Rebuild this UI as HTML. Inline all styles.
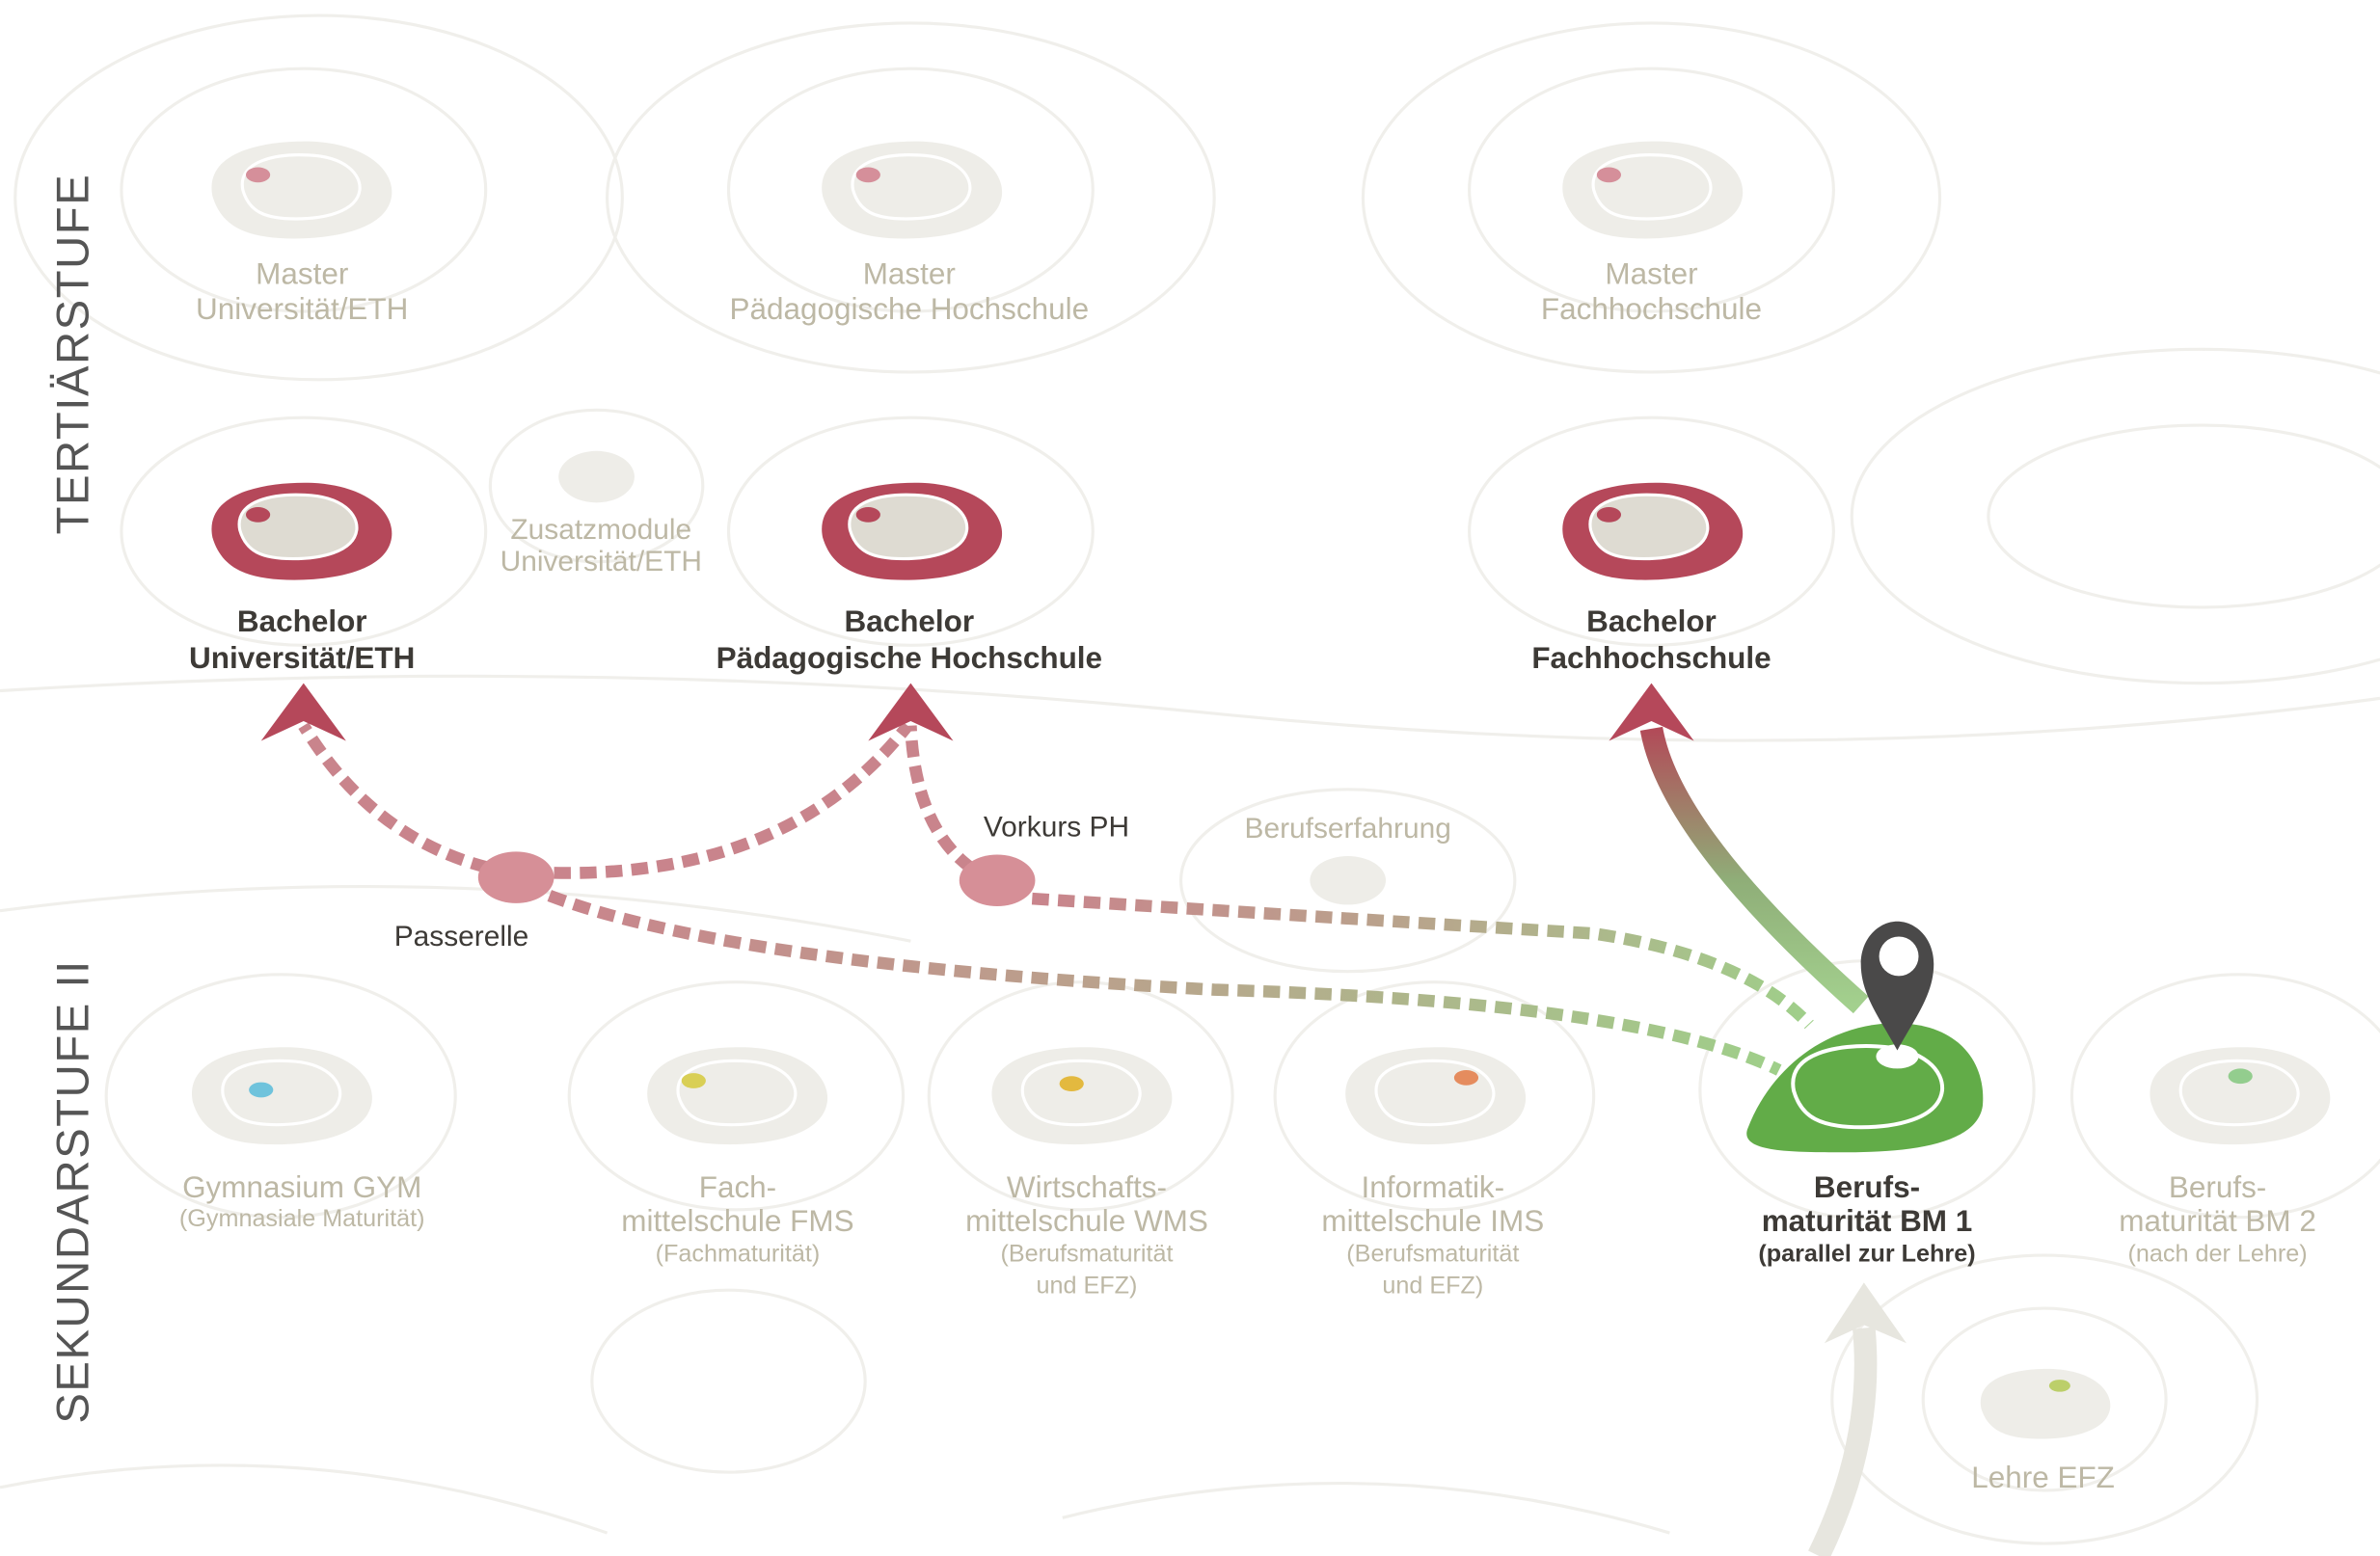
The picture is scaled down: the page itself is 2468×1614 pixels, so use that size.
<!DOCTYPE html>
<html><head><meta charset="utf-8"><style>
html,body{margin:0;padding:0;background:#fff;}
svg{display:block;}
text{font-family:"Liberation Sans","DejaVu Sans",sans-serif;text-anchor:middle;}
.g{fill:#bdb8a5;font-size:20px;}
.gs{fill:#bdb8a5;font-size:16px;}
.d{fill:#3d3a36;font-size:20px;font-weight:bold;}
.ds{fill:#3d3a36;font-size:16px;}
.c{fill:none;stroke:#f0efeb;stroke-width:2;}
</style></head><body>
<svg width="2468" height="1614" viewBox="0 0 1568 1025" xmlns="http://www.w3.org/2000/svg">
<defs>
<path id="b" d="M-58,4 C-64,-26 -22,-33 8,-32 C45,-30 62,-12 60,4 C57,26 22,32 -4,32 C-36,32 -52,24 -58,4Z"/>
<path id="bi" d="M-38,2 C-42,-18 -14,-22 5,-21 C30,-20 40,-8 39,2 C37,17 14,21 -3,21 C-24,21 -34,16 -38,2Z"/>
<path id="bg" d="M-62,22 C-50,-10 -20,-33 15,-33 C48,-33 62,-12 60,10 C57,30 22,34 -10,34 C-40,34 -66,34 -62,22Z"/>
<linearGradient id="gr" x1="0" y1="0" x2="1" y2="0"><stop offset="0" stop-color="#c9848c"/><stop offset="0.5" stop-color="#b8a58c"/><stop offset="1" stop-color="#9fcf8a"/></linearGradient>
<linearGradient id="gs" x1="0" y1="1" x2="0" y2="0"><stop offset="0" stop-color="#a3d08e"/><stop offset="0.45" stop-color="#8fae78"/><stop offset="1" stop-color="#b24a58"/></linearGradient>
</defs>
<g class="c">
<ellipse cx="200" cy="125" rx="120" ry="80"/><ellipse cx="210" cy="130" rx="200" ry="120"/>
<ellipse cx="600" cy="125" rx="120" ry="80"/><ellipse cx="600" cy="130" rx="200" ry="115"/>
<ellipse cx="1088" cy="125" rx="120" ry="80"/><ellipse cx="1088" cy="130" rx="190" ry="115"/>
<ellipse cx="200" cy="350" rx="120" ry="75"/><ellipse cx="600" cy="350" rx="120" ry="75"/><ellipse cx="1088" cy="350" rx="120" ry="75"/>
<ellipse cx="393" cy="320" rx="70" ry="50"/>
<ellipse cx="185" cy="722" rx="115" ry="80"/><ellipse cx="485" cy="722" rx="110" ry="75"/><ellipse cx="712" cy="722" rx="100" ry="75"/>
<ellipse cx="945" cy="722" rx="105" ry="75"/><ellipse cx="1230" cy="718" rx="110" ry="85"/><ellipse cx="1475" cy="722" rx="110" ry="80"/>
<ellipse cx="1347" cy="922" rx="80" ry="60"/><ellipse cx="1347" cy="922" rx="140" ry="95"/>
<ellipse cx="888" cy="580" rx="110" ry="60"/><ellipse cx="480" cy="910" rx="90" ry="60"/>
<ellipse cx="1450" cy="340" rx="140" ry="60"/><ellipse cx="1450" cy="340" rx="230" ry="110"/>
<path d="M0,455 Q400,430 800,470 T1568,460"/><path d="M0,600 Q300,560 600,620"/>
<path d="M0,980 Q200,940 400,1010"/><path d="M700,1000 Q900,950 1100,1010"/>
</g>
<g fill="#eeede8"><use href="#b" x="198" y="125"/><use href="#b" x="600" y="125"/><use href="#b" x="1088" y="125"/></g>
<g fill="none" stroke="#fff" stroke-width="2"><use href="#bi" x="198" y="123"/><use href="#bi" x="600" y="123"/><use href="#bi" x="1088" y="123"/></g>
<g fill="#d58f9a"><ellipse cx="170" cy="115" rx="8" ry="5"/><ellipse cx="572" cy="115" rx="8" ry="5"/><ellipse cx="1060" cy="115" rx="8" ry="5"/></g>
<g fill="#b5485a"><use href="#b" x="198" y="350"/><use href="#b" x="600" y="350"/><use href="#b" x="1088" y="350"/></g>
<g fill="#dedbd2" stroke="#fff" stroke-width="2"><use href="#bi" x="196" y="347"/><use href="#bi" x="598" y="347"/><use href="#bi" x="1086" y="347"/></g>
<g fill="#b5485a"><ellipse cx="170" cy="339" rx="8" ry="5"/><ellipse cx="572" cy="339" rx="8" ry="5"/><ellipse cx="1060" cy="339" rx="8" ry="5"/></g>
<ellipse cx="393" cy="314" rx="25" ry="17" fill="#eeede8"/>
<ellipse cx="888" cy="580" rx="25" ry="16" fill="#eeede8"/>
<g fill="#eeede8"><use href="#b" x="185" y="722"/><use href="#b" x="485" y="722"/><use href="#b" x="712" y="722"/><use href="#b" x="945" y="722"/><use href="#b" x="1475" y="722"/><use href="#b" x="1347" y="925" transform="translate(1347 925) scale(0.72) translate(-1347 -925)"/></g>
<g fill="none" stroke="#fff" stroke-width="2"><use href="#bi" x="185" y="720"/><use href="#bi" x="485" y="720"/><use href="#bi" x="712" y="720"/><use href="#bi" x="945" y="720"/><use href="#bi" x="1475" y="720"/></g>
<ellipse cx="172" cy="718" rx="8" ry="5" fill="#6fc3dc"/>
<ellipse cx="457" cy="712" rx="8" ry="5" fill="#d9cf55"/>
<ellipse cx="706" cy="714" rx="8" ry="5" fill="#e3b93f"/>
<ellipse cx="966" cy="710" rx="8" ry="5" fill="#e58c5e"/>
<ellipse cx="1476" cy="709" rx="8" ry="5" fill="#93cd8e"/>
<ellipse cx="1357" cy="913" rx="7" ry="4" fill="#bccf6a"/>
<g fill="none" stroke-width="8" stroke-dasharray="11 6">
<path d="M338,575 Q250,560 200,478" stroke="#c9848c"/>
<path d="M365,575 Q520,578 598,478" stroke="#c9848c"/>
<path d="M640,572 Q603,545 600,478" stroke="#c9848c"/>
<path d="M362,590 Q480,635 800,652 Q1080,660 1172,705" stroke="url(#gr)"/>
<path d="M680,592 Q900,606 1050,615 Q1150,630 1192,675" stroke="url(#gr)"/>
</g>
<path d="M1226,662 Q1100,550 1088,480" fill="none" stroke="url(#gs)" stroke-width="15"/>
<path d="M1198,1025 Q1235,950 1228,875" fill="none" stroke="#e7e6df" stroke-width="15"/>
<polygon points="1228,845 1202,885 1228,873 1256,885" fill="#e7e6df"/>
<g fill="#b5485a">
<polygon points="200,450 172,488 200,475 228,488"/>
<polygon points="600,450 572,488 600,475 628,488"/>
<polygon points="1088,450 1060,488 1088,475 1116,488"/>
</g>
<ellipse cx="340" cy="578" rx="25" ry="17" fill="#d68f97"/>
<ellipse cx="657" cy="580" rx="25" ry="17" fill="#d68f97"/>
<g transform="translate(1230 716) scale(1.27)"><use href="#bg" fill="#62ac48"/><use href="#bi" fill="none" stroke="#fff" stroke-width="2"/></g>
<ellipse cx="1250" cy="696" rx="14" ry="8" fill="#fff"/>
<path d="M1250,692 C1238,670 1226,655 1226,635 C1226,618 1238,607 1250,607 C1262,607 1274,618 1274,635 C1274,655 1262,670 1250,692Z" fill="#4a4949"/>
<circle cx="1251" cy="630" r="13" fill="#fff"/>
<text class="g"><tspan x="199" y="187">Master</tspan><tspan x="199" y="210">Universität/ETH</tspan></text>
<text class="g"><tspan x="599" y="187">Master</tspan><tspan x="599" y="210">Pädagogische Hochschule</tspan></text>
<text class="g"><tspan x="1088" y="187">Master</tspan><tspan x="1088" y="210">Fachhochschule</tspan></text>
<text class="g" style="font-size:19px"><tspan x="396" y="355">Zusatzmodule</tspan><tspan x="396" y="376">Universität/ETH</tspan></text>
<text class="d"><tspan x="199" y="416">Bachelor</tspan><tspan x="199" y="440">Universität/ETH</tspan></text>
<text class="d"><tspan x="599" y="416">Bachelor</tspan><tspan x="599" y="440">Pädagogische Hochschule</tspan></text>
<text class="d"><tspan x="1088" y="416">Bachelor</tspan><tspan x="1088" y="440">Fachhochschule</tspan></text>
<text class="d" style="font-weight:normal;font-size:19px" x="304" y="623">Passerelle</text>
<text class="d" style="font-weight:normal;font-size:19px" x="696" y="551">Vorkurs PH</text>
<text class="g" style="font-size:19px" x="888" y="552">Berufserfahrung</text>
<text class="g"><tspan x="199" y="789">Gymnasium GYM</tspan><tspan class="gs" x="199" y="808">(Gymnasiale Maturität)</tspan></text>
<text class="g"><tspan x="486" y="789">Fach-</tspan><tspan x="486" y="811">mittelschule FMS</tspan><tspan class="gs" x="486" y="831">(Fachmaturität)</tspan></text>
<text class="g"><tspan x="716" y="789">Wirtschafts-</tspan><tspan x="716" y="811">mittelschule WMS</tspan><tspan class="gs" x="716" y="831">(Berufsmaturität</tspan><tspan class="gs" x="716" y="852">und EFZ)</tspan></text>
<text class="g"><tspan x="944" y="789">Informatik-</tspan><tspan x="944" y="811">mittelschule IMS</tspan><tspan class="gs" x="944" y="831">(Berufsmaturität</tspan><tspan class="gs" x="944" y="852">und EFZ)</tspan></text>
<text class="d"><tspan x="1230" y="789">Berufs-</tspan><tspan x="1230" y="811">maturität BM 1</tspan><tspan class="ds" x="1230" y="831">(parallel zur Lehre)</tspan></text>
<text class="g"><tspan x="1461" y="789">Berufs-</tspan><tspan x="1461" y="811">maturität BM 2</tspan><tspan class="gs" x="1461" y="831">(nach der Lehre)</tspan></text>
<text class="g" x="1346" y="980">Lehre EFZ</text>
<text transform="translate(58 233) rotate(-90)" style="font-size:30px;fill:#555;letter-spacing:1px">TERTIÄRSTUFE</text>
<text transform="translate(58 785) rotate(-90)" style="font-size:30px;fill:#555;letter-spacing:1px">SEKUNDARSTUFE II</text>
</svg>
</body></html>
